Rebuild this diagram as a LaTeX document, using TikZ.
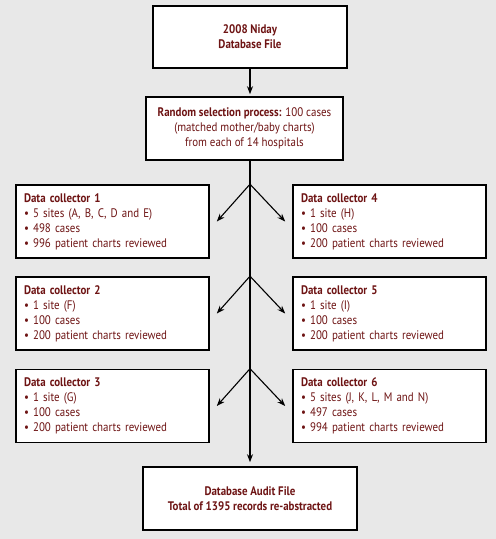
\documentclass[tikz,border=0pt]{standalone}
\usepackage{fontspec}
\setmainfont[FakeStretch=0.88]{PT Sans}
\usetikzlibrary{arrows.meta,calc,positioning}
\definecolor{boxtext}{HTML}{6E1414}
\definecolor{paper}{HTML}{E8E8E8}
\newcommand{\boxfont}{\fontsize{12.4}{15}\selectfont}
\tikzset {
  >={Stealth[length=8pt,width=6pt]},
  every node/.style={font=\boxfont, text=boxtext},
  box/.style={draw=black, line width=1.6pt, fill=white, inner sep=0pt, align=center},
  headbox/.style={box, font=\boxfont\bfseries},
  listbox/.style={box, align=left, text width=177pt, minimum width=193pt, minimum height=73pt},
  link/.style={line width=1.1pt, ->},
}

\begin{document}
\begin{tikzpicture}[x=1pt,y=-1pt]
  \fill[paper] (0,0) rectangle (496,539);
  \useasboundingbox (0,0) rectangle (496,539);

  \node[headbox, minimum width=194pt, minimum height=62pt] (db) at (250,37)
    {2008 Niday\\Database File};
  \node[box, minimum width=197pt, minimum height=63pt] (sel) at (244.5,128.5)
    {\textbf{Random selection process:} 100 cases\\(matched mother/baby charts)\\from each of 14 hospitals};

  \node[listbox] (dc1) at (112.5,221.5) {\textbf{Data collector 1}\\\textbullet{} 5 sites (A, B, C, D and E)\\\textbullet{} 498 cases\\\textbullet{} 996 patient charts reviewed};
  \node[listbox] (dc2) at (112.5,313.5) {\textbf{Data collector 2}\\\textbullet{} 1 site (F)\\\textbullet{} 100 cases\\\textbullet{} 200 patient charts reviewed};
  \node[listbox] (dc3) at (112.5,406) {\textbf{Data collector 3}\\\textbullet{} 1 site (G)\\\textbullet{} 100 cases\\\textbullet{} 200 patient charts reviewed};
  \node[listbox] (dc4) at (389.5,221.5) {\textbf{Data collector 4}\\\textbullet{} 1 site (H)\\\textbullet{} 100 cases\\\textbullet{} 200 patient charts reviewed};
  \node[listbox] (dc5) at (389.5,313.5) {\textbf{Data collector 5}\\\textbullet{} 1 site (I)\\\textbullet{} 100 cases\\\textbullet{} 200 patient charts reviewed};
  \node[listbox] (dc6) at (389.5,406) {\textbf{Data collector 6}\\\textbullet{} 5 sites (J, K, L, M and N)\\\textbullet{} 497 cases\\\textbullet{} 994 patient charts reviewed};

  \node[headbox, minimum width=214pt, minimum height=63pt] (audit) at (250,498.5)
    {Database Audit File\\Total of 1395 records re-abstracted};

  \draw[link, shorten >=2pt] (db.south) -- (db.south |- sel.north);
  \draw[link, shorten >=4pt] (db.south |- sel.south) -- (audit.north);
  \foreach \l/\r in {dc1/dc4,dc2/dc5,dc3/dc6} {
    \coordinate (split) at (audit.north |- \l.north);
    \draw[link] (split) -- ($(\l.east)+(7,0)$);
    \draw[link] (split) -- ($(\r.west)+(-7,0)$);
  }
\end{tikzpicture}
\end{document}
